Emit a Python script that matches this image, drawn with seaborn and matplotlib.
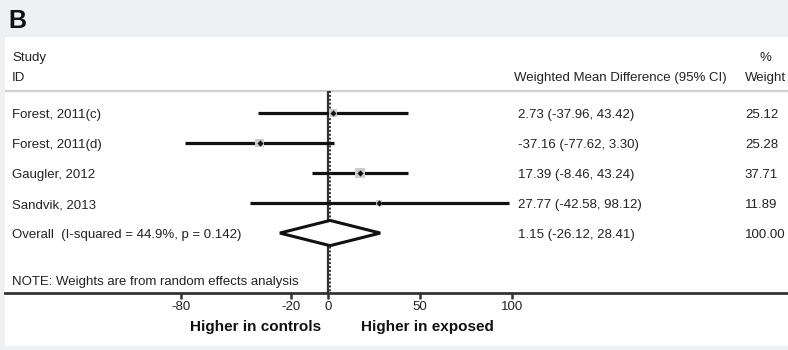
# Forest plot: weighted mean difference by study (panel B)
import numpy as np
import pandas as pd
import matplotlib.pyplot as plt
import matplotlib.transforms as mtransforms
from matplotlib.patches import Rectangle, Polygon
import seaborn as sns

sns.set_theme(style="white")
plt.rcParams['font.family'] = ['Liberation Sans', 'DejaVu Sans']

# data
studies = ['Forest, 2011(c)', 'Forest, 2011(d)', 'Gaugler, 2012', 'Sandvik, 2013']
wmd = [2.73, -37.16, 17.39, 27.77]
lower = [-37.96, -77.62, -8.46, -42.58]
upper = [43.42, 3.30, 43.24, 98.12]
weights = [25.12, 25.28, 37.71, 11.89]
overall_label = 'Overall  (I-squared = 44.9%, p = 0.142)'
overall_est = 1.15
overall_lo = -26.12
overall_hi = 28.41
overall_weight = 100.00
xticks = [-80, -20, 0, 50, 100]

df = pd.DataFrame({'study': studies, 'wmd': wmd, 'lo': lower, 'hi': upper, 'w': weights})
df['row'] = np.arange(len(df))
overall_row = len(df)

txt = '#222222'
bg = '#eff0f2'

fig = plt.figure(figsize=(7.88, 3.5), dpi=100, facecolor=bg)
# white panel
fig.patches.append(Rectangle((5/788, 4/350), 783/788, 309/350, transform=fig.transFigure,
                             facecolor='white', edgecolor='none', zorder=-10))
fig.text(8/788, 1 - 20.5/350, 'B', fontsize=18, fontweight='bold', va='center', ha='left', color='#111')

ax = fig.add_axes([5/788, 57.5/350, 783/788, 255.5/350])
ax.set_facecolor('white')
y_top, y_bot = -2.53, 5.98

# axis styling
for s in ['left', 'top', 'right']:
    ax.spines[s].set_visible(False)
ax.spines['bottom'].set_linewidth(2)
ax.spines['bottom'].set_color('#333333')

# header separator
sep_row = -0.73
ax.axhline(sep_row, color='#d0d0d0', lw=1.6, zorder=1)

# null line and overall line
ax.vlines(0, sep_row, y_bot, color='#333333', lw=1.6, zorder=2)
ax.vlines(overall_est, sep_row, y_bot, color='#333333', lw=1.4, linestyles=(0, (1, 1)), zorder=2)

# confidence intervals
ax.hlines(df['row'], df['lo'], df['hi'], color='#111111', lw=2.3, zorder=3)

# weight squares and point estimates
sns.scatterplot(data=df, x='wmd', y='row', marker='s', s=df['w'] * 1.5, color='#cccccc',
                linewidth=0, legend=False, ax=ax, zorder=4)
sns.scatterplot(data=df, x='wmd', y='row', marker='D', s=10, color='#111111',
                linewidth=0, legend=False, ax=ax, zorder=5)
ax.set_xlabel('')
ax.set_ylabel('')
ax.set_xlim(-175.5, 250)
ax.set_ylim(y_bot, y_top)
ax.set_yticks([])
ax.set_xticks(xticks)
ax.set_xticklabels([str(t) for t in xticks])
ax.tick_params(axis='x', bottom=True, direction='out', length=4.5, width=1.8,
               colors='#333333', labelsize=9.5, pad=1.5, labelcolor=txt)

# overall diamond
h = 0.42
diamond = Polygon([[overall_lo, overall_row], [overall_est, overall_row - h],
                   [overall_hi, overall_row], [overall_est, overall_row + h]],
                  closed=True, facecolor='white', edgecolor='#111111', lw=2.2,
                  joinstyle='miter', zorder=4)
ax.add_patch(diamond)

# text columns
tr = mtransforms.blended_transform_factory(ax.transAxes, ax.transData)
fs = 9.5
x_lab, x_ci, x_w, x_hdr_ci, x_hdr_w = 0.009, 0.655, 0.945, 0.922, 0.971

ax.text(x_lab, -1.83, 'Study', transform=tr, fontsize=fs, va='center', color=txt)
ax.text(x_lab, -1.17, 'ID', transform=tr, fontsize=fs, va='center', color=txt)
ax.text(x_hdr_ci, -1.17, 'Weighted Mean Difference (95% CI)', transform=tr, fontsize=fs,
        va='center', ha='right', color=txt)
ax.text(x_hdr_w, -1.83, '%', transform=tr, fontsize=fs, va='center', ha='center', color=txt)
ax.text(x_hdr_w, -1.17, 'Weight', transform=tr, fontsize=fs, va='center', ha='center', color=txt)

for _, r in df.iterrows():
    yy = r['row'] + 0.07
    ax.text(x_lab, yy, r['study'], transform=tr, fontsize=fs, va='center', color=txt)
    ax.text(x_ci, yy, f"{r['wmd']:.2f} ({r['lo']:.2f}, {r['hi']:.2f})", transform=tr,
            fontsize=fs, va='center', color=txt)
    ax.text(x_w, yy, f"{r['w']:.2f}", transform=tr, fontsize=fs, va='center', color=txt)

ax.text(x_lab, overall_row + 0.07, overall_label, transform=tr, fontsize=fs, va='center', color=txt)
ax.text(x_ci, overall_row + 0.07, f"{overall_est:.2f} ({overall_lo:.2f}, {overall_hi:.2f})",
        transform=tr, fontsize=fs, va='center', color=txt)
ax.text(x_w, overall_row + 0.07, f"{overall_weight:.2f}", transform=tr, fontsize=fs,
        va='center', color=txt)

ax.text(x_lab, 5.63, 'NOTE: Weights are from random effects analysis', transform=tr,
        fontsize=fs, va='center', color=txt)

# direction labels under the axis
trb = mtransforms.blended_transform_factory(ax.transData, ax.transAxes)
ax.text(-3.8, -0.135, 'Higher in controls', transform=trb, fontsize=11, fontweight='bold',
        ha='right', va='center', color='#111')
ax.text(18, -0.135, 'Higher in exposed', transform=trb, fontsize=11, fontweight='bold',
        ha='left', va='center', color='#111')

fig.savefig('out.png', dpi=100, facecolor=bg)
